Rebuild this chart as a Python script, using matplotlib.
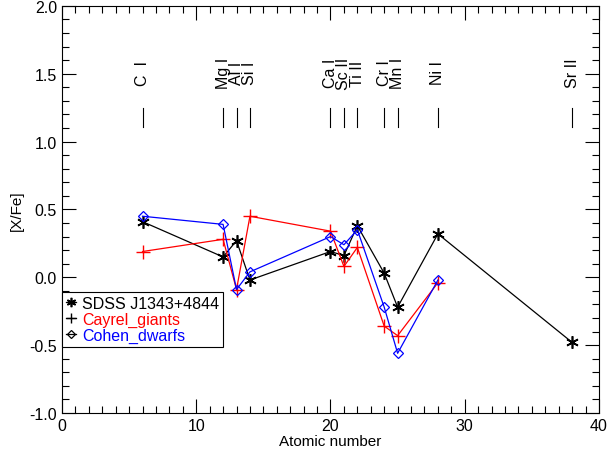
import numpy as np
import matplotlib
matplotlib.use('Agg')
import matplotlib.pyplot as plt
from matplotlib.ticker import MultipleLocator, FormatStrFormatter

plt.rcParams['font.family'] = ['Liberation Sans', 'DejaVu Sans']

# element identifications (atomic number, label)
z_lines = [6, 12, 13, 14, 20, 21, 22, 24, 25, 28, 38]
line_labels = ['C  I', 'Mg I', 'Al I', 'Si I', 'Ca I', 'Sc II', 'Ti II',
               'Cr I', 'Mn I', 'Ni I', 'Sr II']

# SDSS J1343+4844
z_sdss = [6, 12, 13, 14, 20, 21, 22, 24, 25, 28, 38]
xfe_sdss = [0.41, 0.15, 0.27, -0.02, 0.19, 0.16, 0.38, 0.03, -0.22, 0.32, -0.48]

# Cayrel giants
z_cay = [6, 12, 13, 14, 20, 21, 22, 24, 25, 28]
xfe_cay = [0.19, 0.28, -0.09, 0.45, 0.34, 0.08, 0.22, -0.36, -0.43, -0.04]

# Cohen dwarfs
z_coh = [6, 12, 13, 14, 20, 21, 22, 24, 25, 28]
xfe_coh = [0.45, 0.39, -0.09, 0.04, 0.30, 0.24, 0.35, -0.22, -0.56, -0.02]

fig = plt.figure(figsize=(6.1, 4.6), dpi=100)
ax = fig.add_axes([0.1016, 0.1, 0.8804, 0.885])

ax.plot(z_sdss, xfe_sdss, color='black', lw=0.9, marker=(6, 2, 0), ms=9,
        mew=1.2, label='SDSS J1343+4844')
ax.plot(z_cay, xfe_cay, color='red', lw=0.9, marker='+', ms=10, mew=1.0,
        label='Cayrel_giants')
ax.plot(z_coh, xfe_coh, color='blue', lw=0.9, marker='D', ms=5.5, mew=0.9,
        mfc='none', label='Cohen_dwarfs')

# line markers with element names above
for z, lab in zip(z_lines, line_labels):
    ax.plot([z, z], [1.11, 1.25], color='black', lw=0.8)
    ax.text(z, 1.51, lab, rotation=90, ha='center', va='center', fontsize=11.5)

ax.set_xlim(0, 40)
ax.set_ylim(-1.0, 2.0)
ax.xaxis.set_major_locator(MultipleLocator(10))
ax.xaxis.set_minor_locator(MultipleLocator(1))
ax.yaxis.set_major_locator(MultipleLocator(0.5))
ax.yaxis.set_minor_locator(MultipleLocator(0.1))
ax.yaxis.set_major_formatter(FormatStrFormatter('%.1f'))
ax.tick_params(which='both', direction='in', top=True, right=True,
               labelsize=11.5)
ax.tick_params(which='major', length=10, width=0.8)
ax.tick_params(which='minor', length=5, width=0.8)
for s in ax.spines.values():
    s.set_linewidth(0.8)

ax.set_xlabel('Atomic number', fontsize=11, labelpad=1)
ax.set_ylabel('[X/Fe]', fontsize=11)

leg = ax.legend(loc='upper left', bbox_to_anchor=(0, 0.298), borderaxespad=0,
                fontsize=11.5, fancybox=False, edgecolor='black',
                handlelength=0.6, handletextpad=0.4, labelspacing=0.05,
                borderpad=0.25, framealpha=1, markerscale=0.75)
leg.get_frame().set_linewidth(0.8)
for h in leg.legend_handles:
    h.set_color('black')
    h.set_markeredgecolor('black')
for t, col in zip(leg.get_texts(), ['black', 'red', 'blue']):
    t.set_color(col)

fig.savefig('out.png', dpi=100)
